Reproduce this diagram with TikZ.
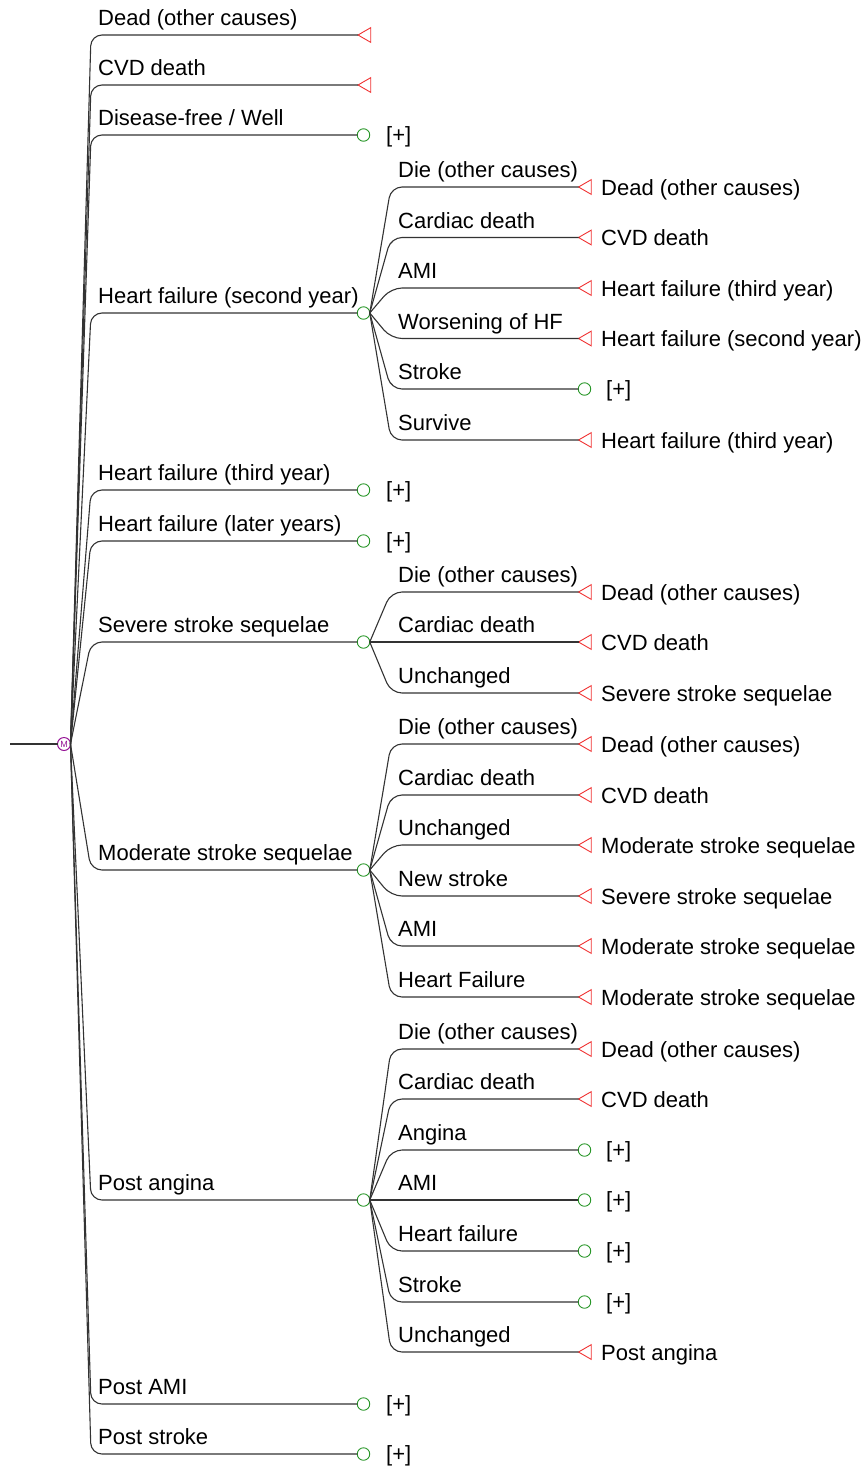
\documentclass[tikz,border=0pt]{standalone}
\usepackage{fontspec}
\setmainfont{Liberation Sans}
\usepackage{xcolor}
\usepackage{tikz}
\usetikzlibrary{arrows.meta,positioning,calc,shapes.geometric}

\definecolor{termred}{RGB}{240,50,50}
\definecolor{chgreen}{RGB}{40,150,40}
\definecolor{mkviolet}{RGB}{150,20,150}

\tikzset{
  branch/.style={draw=black!80, line width=1.1pt, rounded corners=11pt},
  term/.style={regular polygon, regular polygon sides=3, shape border rotate=90,
    draw=termred, line width=0.9pt, minimum size=17pt, inner sep=0pt, outer sep=0pt},
  chance/.style={circle, draw=chgreen, line width=0.9pt, minimum size=12.5pt,
    inner sep=0pt, outer sep=0pt},
  markov/.style={circle, draw=mkviolet, text=mkviolet, line width=1pt,
    minimum size=13pt, inner sep=0pt, outer sep=0pt, font=\fontsize{9}{9}\selectfont},
  blabel/.style={anchor=base west, inner sep=0pt},
  olabel/.style={anchor=base west, inner sep=0pt},
}

\begin{document}
\begin{tikzpicture}[x=1pt, y=-1pt, font=\fontsize{22}{26}\selectfont]
  \useasboundingbox (0,0) rectangle (861,1468);
  % Markov root
  \coordinate (in) at (10,744);
  \node[markov] (mk) at (64,744) {M};
  \draw[branch] (in) -- (mk);
  % root branches: terminal states
  \foreach \y/\txt/\nm in {35/{Dead (other causes)}/r1, 85/{CVD death}/r2}{
    \coordinate (\nm c) at (91,\y);
    \node[term] (\nm t) at (366.5,\y) {};
    \draw[branch] (mk.east) -- (\nm c) -- (\nm t);
    \node[blabel] (\nm l) at ([xshift=7pt,yshift=9.5pt]\nm c) {\txt};
  }
  % root branches: collapsed chance nodes
  \foreach \y/\txt/\nm in {135/{Disease-free / Well}/r3, 490/{Heart failure (third year)}/r5,
      541/{Heart failure (later years)}/r6, 1404/{Post AMI}/r10, 1454/{Post stroke}/r11}{
    \coordinate (\nm c) at (91,\y);
    \node[chance] (\nm t) at (363.5,\y) {};
    \draw[branch] (mk.east) -- (\nm c) -- (\nm t);
    \node[blabel] (\nm l) at ([xshift=7pt,yshift=9.5pt]\nm c) {\txt};
    \node[olabel] (\nm p) at (386,\y+7) {[+]};
  }
  % root branches: expanded chance nodes
  \foreach \y/\txt/\nm in {313/{Heart failure (second year)}/hf, 642/{Severe stroke sequelae}/sev,
      870/{Moderate stroke sequelae}/mod, 1200/{Post angina}/ang}{
    \coordinate (\nm c) at (91,\y);
    \node[chance] (\nm) at (363.5,\y) {};
    \draw[branch] (mk.east) -- (\nm c) -- (\nm);
    \node[blabel] (\nm l) at ([xshift=7pt,yshift=9.5pt]\nm c) {\txt};
  }
  % second level: terminal branches
  \foreach \p/\nm/\y/\txt/\out in {
      hf/h1/187/{Die (other causes)}/{Dead (other causes)},
      hf/h2/237.5/{Cardiac death}/{CVD death},
      hf/h3/288/{AMI}/{Heart failure (third year)},
      hf/h4/338.5/{Worsening of HF}/{Heart failure (second year)},
      hf/h6/440/{Survive}/{Heart failure (third year)},
      sev/s1/592/{Die (other causes)}/{Dead (other causes)},
      sev/s3/693/{Unchanged}/{Severe stroke sequelae},
      mod/m1/744/{Die (other causes)}/{Dead (other causes)},
      mod/m2/795/{Cardiac death}/{CVD death},
      mod/m3/845/{Unchanged}/{Moderate stroke sequelae},
      mod/m4/896/{New stroke}/{Severe stroke sequelae},
      mod/m5/946/{AMI}/{Moderate stroke sequelae},
      mod/m6/997/{Heart Failure}/{Moderate stroke sequelae},
      ang/a1/1049/{Die (other causes)}/{Dead (other causes)},
      ang/a2/1099/{Cardiac death}/{CVD death},
      ang/a7/1352/{Unchanged}/{Post angina}}{
    \coordinate (\nm c) at (391,\y);
    \node[term] (\nm t) at (587,\y) {};
    \draw[branch] (\p.east) -- (\nm c) -- (\nm t);
    \node[blabel] (\nm l) at ([xshift=7pt,yshift=9.5pt]\nm c) {\txt};
    \node[olabel] (\nm o) at (601,\y+8) {\out};
  }
  % second level: collapsed chance nodes
  \foreach \p/\nm/\y/\txt in {hf/h5/389/{Stroke}, ang/a3/1150/{Angina},
      ang/a5/1251/{Heart failure}, ang/a6/1302/{Stroke}}{
    \coordinate (\nm c) at (391,\y);
    \node[chance] (\nm t) at (584.5,\y) {};
    \draw[branch] (\p.east) -- (\nm c) -- (\nm t);
    \node[blabel] (\nm l) at ([xshift=7pt,yshift=9.5pt]\nm c) {\txt};
    \node[olabel] (\nm p) at (606,\y+7) {[+]};
  }
  % straight branches (same level as their node)
  \node[term] (s2t) at (587,642) {};
  \draw[branch] (sev.east) -- (s2t);
  \node[blabel] (s2l) at (398,632.5) {Cardiac death};
  \node[olabel] (s2o) at (601,650) {CVD death};
  \node[chance] (a4t) at (584.5,1200) {};
  \draw[branch] (ang.east) -- (a4t);
  \node[blabel] (a4l) at (398,1190.5) {AMI};
  \node[olabel] (a4p) at (606,1207) {[+]};
\end{tikzpicture}
\end{document}
